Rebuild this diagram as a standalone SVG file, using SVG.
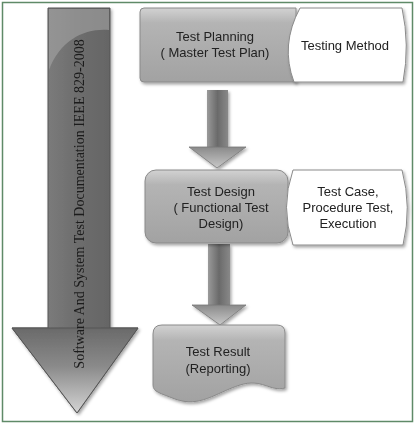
<svg xmlns="http://www.w3.org/2000/svg" width="416" height="425" viewBox="0 0 416 425">
<defs>
<linearGradient id="shaftG" x1="0" y1="0" x2="1" y2="0">
<stop offset="0" stop-color="#8c8c8c"/><stop offset="0.5" stop-color="#6e6e6e"/><stop offset="1" stop-color="#5e5e5e"/>
</linearGradient>
<linearGradient id="headG" x1="0" y1="0" x2="0" y2="1">
<stop offset="0" stop-color="#6a6a6a"/><stop offset="0.45" stop-color="#8a8a8a"/><stop offset="1" stop-color="#d4d4d4"/>
</linearGradient>
<linearGradient id="boxG" x1="0" y1="0" x2="0" y2="1">
<stop offset="0" stop-color="#d2d2d2"/><stop offset="0.2" stop-color="#b4b4b4"/><stop offset="1" stop-color="#a2a2a2"/>
</linearGradient>
<linearGradient id="smallShaft" x1="0" y1="0" x2="1" y2="0">
<stop offset="0" stop-color="#9a9a9a"/><stop offset="0.5" stop-color="#6a6a6a"/><stop offset="1" stop-color="#888"/>
</linearGradient>
<linearGradient id="smallHead" x1="0" y1="0" x2="0" y2="1">
<stop offset="0" stop-color="#8a8a8a"/><stop offset="1" stop-color="#c8c8c8"/>
</linearGradient>
<filter id="sh" x="-10%" y="-10%" width="125%" height="130%">
<feDropShadow dx="1.5" dy="2" stdDeviation="1.5" flood-color="#000" flood-opacity="0.35"/>
</filter>
</defs>
<style>
.lbl{font-family:"Liberation Sans",Arial,sans-serif;font-size:13px;fill:#222;text-anchor:middle}
.side{font-family:"Liberation Serif","Times New Roman",serif;font-size:14px;fill:#1a1a1a;text-anchor:middle}
.box{fill:url(#boxG);stroke:#8a8a8a;stroke-width:1}
.wbox{fill:#fff;stroke:#8a8a8a;stroke-width:1}
</style>
<rect x="2.5" y="2.5" width="410" height="419" fill="#fff" stroke="#5f8a68" stroke-width="1.5"/>

<g id="big-arrow" filter="url(#sh)">
<path d="M48,8 H110 V328 H138 L77,413 L12,328 H48 Z" fill="url(#shaftG)" stroke="#555" stroke-width="1"/>
<path d="M12,328 H138 L77,413 Z" fill="url(#headG)" stroke="#555" stroke-width="1"/>
<path d="M49,9 H109 V30 C85,28 60,40 49,70 Z" fill="#aaaaaa" opacity="0.55"/>
<text class="side" transform="translate(84,204) rotate(-90)">Software And System Test Documentation IEEE 829-2008</text>
</g>

<g id="connectors">
<g filter="url(#sh)">
<rect x="207" y="90" width="21" height="58" fill="url(#smallShaft)"/>
<path d="M189,147 H246 L217,168 Z" fill="url(#smallHead)" stroke="#777" stroke-width="0.8"/>
</g>
<g filter="url(#sh)">
<rect x="208" y="244" width="22" height="62" fill="url(#smallShaft)"/>
<path d="M192,305 H246 L220,325 Z" fill="url(#smallHead)" stroke="#777" stroke-width="0.8"/>
</g>
</g>

<g id="test-planning" filter="url(#sh)">
<path class="box" d="M144,8 H296 V82 H144 Q140,82 140,78 V12 Q140,8 144,8 Z"/>
<text class="lbl" x="215" y="41">Test Planning</text>
<text class="lbl" x="215" y="57">( Master Test Plan)</text>
</g>
<g id="testing-method" filter="url(#sh)">
<path class="wbox" d="M300,8 H402 Q410,45 403,82 H294 Q280,45 300,8 Z"/>
<text class="lbl" x="345" y="50">Testing Method</text>
</g>

<g id="test-design" filter="url(#sh)">
<rect class="box" x="145" y="170" width="143" height="73" rx="11"/>
<text class="lbl" x="221" y="196">Test Design</text>
<text class="lbl" x="221" y="212">( Functional Test</text>
<text class="lbl" x="221" y="228">Design)</text>
</g>
<g id="test-case" filter="url(#sh)">
<path class="wbox" d="M293,170 H402 Q412,207 403,245 H293 Q280,207 293,170 Z"/>
<text class="lbl" x="348" y="196">Test Case,</text>
<text class="lbl" x="348" y="212">Procedure Test,</text>
<text class="lbl" x="348" y="228">Execution</text>
</g>

<g id="test-result" filter="url(#sh)">
<path class="box" d="M162,325 H277 Q285,325 285,333 V388 C270,392 262,378 240,385 C215,393 200,408 175,399 C160,393 153,392 153,385 V334 Q153,325 162,325 Z"/>
<text class="lbl" x="218" y="356">Test Result</text>
<text class="lbl" x="218" y="373">(Reporting)</text>
</g>
</svg>
